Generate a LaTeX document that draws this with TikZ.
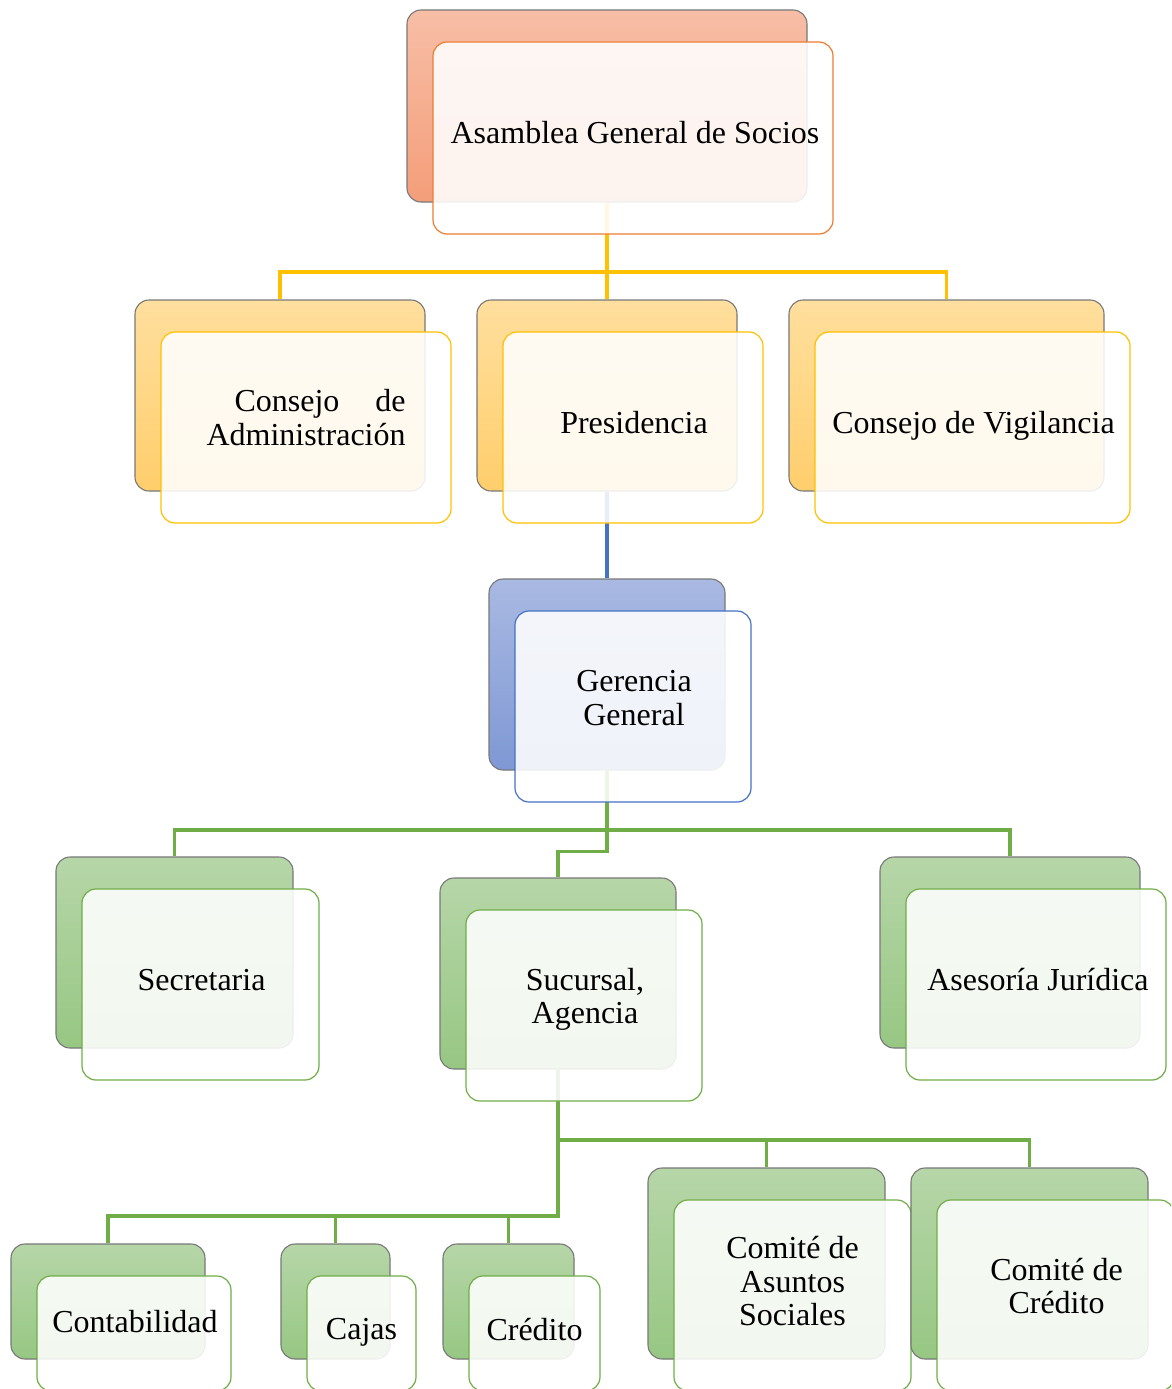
\documentclass[tikz,border=0pt]{standalone}
\usepackage{fontspec}
\setmainfont{Liberation Serif}
\usetikzlibrary{backgrounds,calc}

% palette: back-plate shading and accent per family
\definecolor{orTop}{RGB}{247,190,166}
\definecolor{orBot}{RGB}{244,158,122}
\definecolor{orLine}{RGB}{237,125,49}
\definecolor{yeTop}{RGB}{255,223,158}
\definecolor{yeBot}{RGB}{255,206,108}
\definecolor{yeLine}{RGB}{255,192,0}
\definecolor{blTop}{RGB}{169,185,226}
\definecolor{blBot}{RGB}{127,152,212}
\definecolor{blLine}{RGB}{68,114,196}
\definecolor{grTop}{RGB}{182,214,168}
\definecolor{grBot}{RGB}{151,199,131}
\definecolor{grLine}{RGB}{112,173,71}
\definecolor{plateEdge}{RGB}{120,120,120}

\tikzset{
  back/.style={rectangle, rounded corners=14pt, draw=plateEdge, line width=1.1pt,
    inner sep=0pt, top color=#1Top, bottom color=#1Bot},
  front/.style={rectangle, rounded corners=14pt, draw=#1Line, line width=1.2pt,
    inner sep=0pt, fill=white, fill opacity=0.88},
  label text/.style={font=\fontsize{32}{33.5}\selectfont, align=center, inner sep=0pt,
    text=black},
  link/.style={draw=#1Line, line width=3.2pt, line join=miter},
}

% \orgbox{name}{left}{top}{width}{height}{family}
% draws the shaded back plate (name-b) and the translucent front card (name)
\newcommand\orgbox[6]{%
  \node[back=#6, minimum width=#4pt, minimum height=#5pt] (#1-b)
    at ({#2+#4/2},{#3+#5/2}) {};
  \node[front=#6, minimum width=#4pt, minimum height=#5pt] (#1)
    at ([shift={(26,32)}]#1-b.center) {};
}

\begin{document}
\begin{tikzpicture}[x=1pt, y=-1pt]
  \useasboundingbox (0,0) rectangle (1171,1389);
  \clip (0,0) rectangle (1171,1389);

  % level 1
  \orgbox{asamblea}{407}{10}{400}{192}{or}
  % level 2
  \orgbox{consadm}{135}{300}{290}{191}{ye}
  \orgbox{presid}{477}{300}{260}{191}{ye}
  \orgbox{consvig}{789}{300}{315}{191}{ye}
  % level 3
  \orgbox{geren}{489}{579}{236}{191}{bl}
  % level 4
  \orgbox{secre}{56}{857}{237}{191}{gr}
  \orgbox{sucur}{440}{878}{236}{191}{gr}
  \orgbox{asesor}{880}{857}{260}{191}{gr}
  % level 5
  \orgbox{conta}{11}{1244}{194}{115}{gr}
  \orgbox{cajas}{281}{1244}{109}{115}{gr}
  \orgbox{cred}{443}{1244}{131}{115}{gr}
  \orgbox{comas}{648}{1168}{237}{191}{gr}
  \orgbox{comcr}{911}{1168}{237}{191}{gr}

  % card texts
  \node[label text] (asamblea-t) at ([shift={(2,-5)}]asamblea.center) {Asamblea General de Socios};
  \node[label text] (consadm-t) at ([shift={(0,-10)}]consadm.center)
    {\parbox{199pt}{\hspace*{28pt}Consejo\hfill de\\Administración}};
  \node[label text] (presid-t) at ([shift={(1,-5)}]presid.center) {Presidencia};
  \node[label text] (consvig-t) at ([shift={(1,-2)}]consvig.center) {Consejo de Vigilancia};
  \node[label text] (geren-t) at ([shift={(1,-8.5)}]geren.center) {Gerencia\\General};
  \node[label text] (secre-t) at ([shift={(1,-4)}]secre.center) {Secretaria};
  \node[label text] (sucur-t) at ([shift={(1,-6)}]sucur.center) {Sucursal,\\Agencia};
  \node[label text] (asesor-t) at ([shift={(2,-5)}]asesor.center) {Asesoría Jurídica};
  \node[label text] (conta-t) at ([shift={(1,-12)}]conta.center) {Contabilidad};
  \node[label text] (cajas-t) at ([shift={(0,-1)}]cajas.center) {Cajas};
  \node[label text] (cred-t) at ([shift={(0,-4)}]cred.center) {Crédito};
  \node[label text] (comas-t) at ([shift={(0,-14)}]comas.center) {Comité de\\Asuntos\\Sociales};
  \node[label text] (comcr-t) at ([shift={(1,-9.5)}]comcr.center) {Comité de\\Crédito};

  % junction points of the connector trees
  \coordinate (j1) at (607,272);
  \coordinate (j2) at (607,830);
  \coordinate (j3) at (558,1216);
  \coordinate (j4) at (558,1140);

  \begin{pgfonlayer}{background}
    % yellow: assembly to boards and presidency
    \draw[link=ye] (asamblea-b.south) -- (presid-b.north);
    \draw[link=ye] (consadm-b.north) |- (j1) -| (consvig-b.north);
    % blue: presidency to management
    \draw[link=bl] (presid-b.south) -- (geren-b.north);
    % green: management to its units
    \draw[link=gr] (secre-b.north) |- (j2) -| (asesor-b.north);
    \draw[link=gr] (geren-b.south) -- ++(0,81) -| (sucur-b.north);
    % green: branch to its units
    \draw[link=gr] (sucur-b.south) -- (j3) -| (conta-b.north);
    \draw[link=gr] (cajas-b.north) -- (cajas-b.north |- j3);
    \draw[link=gr] (cred-b.north) -- (cred-b.north |- j3);
    \draw[link=gr] (j4) -| (comcr-b.north);
    \draw[link=gr] (comas-b.north) -- (comas-b.north |- j4);
  \end{pgfonlayer}
\end{tikzpicture}
\end{document}
